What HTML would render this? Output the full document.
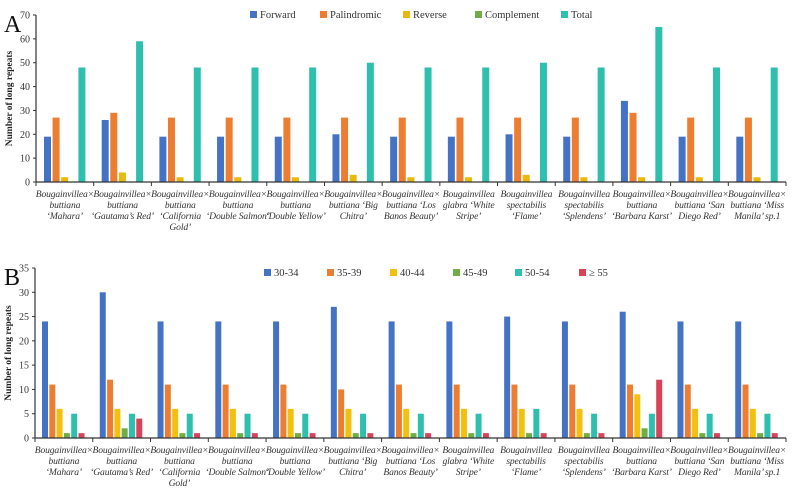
<!DOCTYPE html>
<html><head><meta charset="utf-8"><style>
body{margin:0;background:#fff;}
svg{display:block;font-family:"Liberation Serif",serif;}
</style></head><body>
<svg id="c" width="792" height="488"></svg>
<script>
const categories=[["Bougainvillea×","buttiana","‘Mahara’"],["Bougainvillea×","buttiana","‘Gautama’s Red’"],["Bougainvillea×","buttiana","‘California","Gold’"],["Bougainvillea×","buttiana","‘Double Salmon’"],["Bougainvillea×","buttiana","‘Double Yellow’"],["Bougainvillea×","buttiana ‘Big","Chitra’"],["Bougainvillea×","buttiana ‘Los","Banos Beauty’"],["Bougainvillea","glabra ‘White","Stripe’"],["Bougainvillea","spectabilis","‘Flame’"],["Bougainvillea","spectabilis","‘Splendens’"],["Bougainvillea×","buttiana","‘Barbara Karst’"],["Bougainvillea×","buttiana ‘San","Diego Red’"],["Bougainvillea×","buttiana ‘Miss","Manila’ sp.1"]];
const seriesA=["Forward","Palindromic","Reverse","Complement","Total"];
const forward=[19,26,19,19,19,20,19,19,20,19,34,19,19];
const palindromic=[27,29,27,27,27,27,27,27,27,27,29,27,27];
const reverse=[2,4,2,2,2,3,2,2,3,2,2,2,2];
const complement=[0,0,0,0,0,0,0,0,0,0,0,0,0];
const total=[48,59,48,48,48,50,48,48,50,48,65,48,48];
const seriesB=["30-34","35-39","40-44","45-49","50-54","≥ 55"];
const b30=[24,30,24,24,24,27,24,24,25,24,26,24,24];
const b35=[11,12,11,11,11,10,11,11,11,11,11,11,11];
const b40=[6,6,6,6,6,6,6,6,6,6,9,6,6];
const b45=[1,2,1,1,1,1,1,1,1,1,2,1,1];
const b50=[5,5,5,5,5,5,5,5,6,5,5,5,5];
const b55=[1,4,1,1,1,1,1,1,1,1,12,1,1];
const ticksA=[0,10,20,30,40,50,60,70];
const ticksB=[0,5,10,15,20,25,30,35];

const NS="http://www.w3.org/2000/svg";
const svg=document.getElementById('c');
function mk(t,a,p){const e=document.createElementNS(NS,t);for(const k in a)e.setAttribute(k,a[k]);(p||svg).appendChild(e);return e;}
function panel(o){
  const g=mk('g',{});
  
  
  const y=v=>o.y0-(v/o.max)*(o.y0-o.yTop);
  const gw=(o.x1-o.x0)/categories.length;
  const x=i=>o.x0+i*gw;
  o.ticks.forEach(t=>{
    mk('line',{x1:o.x0-3,x2:o.x0,y1:y(t),y2:y(t),stroke:'#333','stroke-width':1},g);
    const tx=mk('text',{x:o.x0-6,y:y(t)+3.5,'text-anchor':'end','font-size':10,fill:'#333'},g);tx.textContent=t;
    
    
  });
  o.series.forEach((arr,s)=>{
    arr.forEach((v,i)=>{
      const bx=x(i)+o.off+s*o.step;
      const r=mk('rect',{x:bx,y:y(v),width:o.bw,height:o.y0-y(v),fill:o.colors[s]},g);
      
      
    });
  });
  mk('line',{x1:o.x0,x2:o.x0,y1:o.yTop,y2:o.y0,stroke:'#333','stroke-width':1.2},g);
  mk('line',{x1:o.x0,x2:o.x1,y1:o.y0,y2:o.y0,stroke:'#333','stroke-width':1.2},g);
  for(let i=0;i<=categories.length;i++)mk('line',{x1:x(i),x2:x(i),y1:o.y0,y2:o.y0+4,stroke:'#333'},g);
  categories.forEach((lines,i)=>{
    lines.forEach((l,j)=>{
      const t=mk('text',{x:x(i)+gw/2,y:o.y0+15+j*11,'text-anchor':'middle','font-size':9.6,'letter-spacing':-0.15,'font-style':'italic',fill:'#333'},g);t.textContent=l;
      
      
    });
  });
  const yt=mk('text',{transform:`translate(${o.x0-24},${(o.y0+o.yTop)/2}) rotate(-90)`,'text-anchor':'middle','font-size':9.5,'font-weight':'bold',fill:'#222'},g);
  yt.textContent='Number of long repeats';
  
  
  const pl=mk('text',{x:4,y:o.yTop+17,'font-size':24,fill:'#111'},g);pl.textContent=o.letter;
  
  
  o.names.forEach((n,s)=>{
    const lx=o.legX[s];
    const r=mk('rect',{x:lx,y:o.legY-4,width:7,height:7,fill:o.colors[s]},g);
    
    
    const t=mk('text',{x:lx+10,y:o.legY+3,'font-size':10.5,fill:'#333'},g);t.textContent=n;
    
    
  });
}
panel({name:'panel-a-chart',letter:'A',x0:36,x1:786,y0:182,yTop:15,max:70,ticks:ticksA,
  series:[forward,palindromic,reverse,complement,total],names:seriesA,
  colors:['#4472c4','#ed7d31','#e8b90f','#70ad47','#2ebfae'],
  off:8,step:8.6,bw:7,legX:[250,320,403,475,561],legY:15});
panel({name:'panel-b-chart',letter:'B',x0:35,x1:786,y0:438,yTop:268,max:35,ticks:ticksB,
  series:[b30,b35,b40,b45,b50,b55],names:seriesB,
  colors:['#4472c4','#ed7d31','#f2c10f','#70ad47','#2ebfae','#d9435a'],
  off:7,step:7.3,bw:6,legX:[264,327,390,453,515,579],legY:273});
</script>
</body></html>
